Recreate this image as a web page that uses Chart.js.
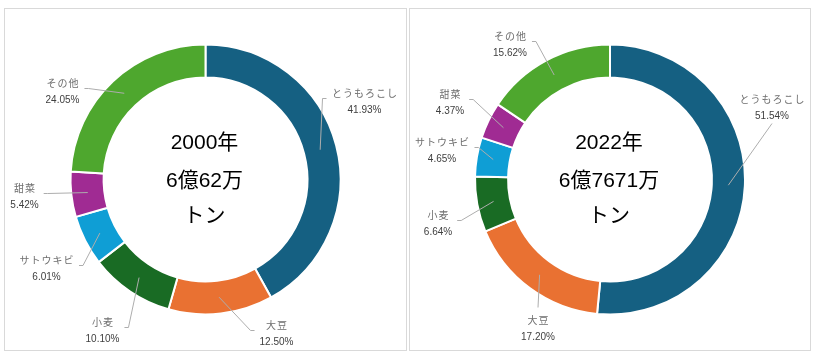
<!DOCTYPE html>
<html><head><meta charset="utf-8">
<script src="https://cdn.jsdelivr.net/npm/chart.js@4/dist/chart.umd.min.js"></script>
<style>
html,body{margin:0;padding:0;background:#fff;}
.panel{position:absolute;top:8px;height:343px;border:1px solid #d9d9d9;box-sizing:border-box;background:#fff;}
#p1{left:4px;width:403px;}
#p2{left:409px;width:402px;}
canvas{display:block;}
</style></head><body>
<div class="panel" id="p1"><canvas id="c1"></canvas></div>
<div class="panel" id="p2"><canvas id="c2"></canvas></div>
<script>
// ---- data ----
const categories = ['とうもろこし','大豆','小麦','サトウキビ','甜菜','その他'];
const values2000 = [41.93, 12.50, 10.10, 6.01, 5.42, 24.05];
const values2022 = [51.54, 17.20, 6.64, 4.65, 4.37, 15.62];
const centerText2000 = ['2000年','6億62万','トン'];
const centerText2022 = ['2022年','6億7671万','トン'];

// ---- styling / layout ----
const colors = ['#156082','#E97132','#196B24','#0F9ED5','#A02B93','#4EA72E'];
const labelLayout2000 = [
  {dx:159, dy:-78, side:'l'},
  {dx:71, dy:154, side:'l'},
  {dx:-103, dy:151, side:'r'},
  {dx:-159, dy:89, side:'r'},
  {dx:-181, dy:17, side:'r'},
  {dx:-143, dy:-88, side:'r'}
];
const labelLayout2022 = [
  {dx:162, dy:-72, side:'b'},
  {dx:-72, dy:149, side:'t'},
  {dx:-172, dy:44, side:'r'},
  {dx:-168, dy:-29, side:'r'},
  {dx:-160, dy:-77, side:'r'},
  {dx:-100, dy:-135, side:'r'}
];

const outLabels = {
  id: 'outLabels',
  afterDatasetsDraw(chart, args, opts) {
    const ctx = chart.ctx;
    const meta = chart.getDatasetMeta(0);
    const data = chart.data.datasets[0].data;
    const labels = chart.data.labels;
    ctx.save();
    meta.data.forEach((arc, i) => {
      const p = arc.getProps(['x','y','startAngle','endAngle','innerRadius','outerRadius'], true);
      const mid = (p.startAngle + p.endAngle) / 2;
      const rr = (p.innerRadius + p.outerRadius) / 2;
      const ax = p.x + Math.cos(mid) * rr;
      const ay = p.y + Math.sin(mid) * rr;
      const L = opts.layout[i];
      const cx = p.x + L.dx, cy = p.y + L.dy;
      const name = labels[i];
      const pct = data[i].toFixed(2) + '%';
      ctx.font = '10px "Noto Sans CJK JP"';
      ctx.letterSpacing = '1px';
      const w1 = ctx.measureText(name).width;
      ctx.letterSpacing = '0px';
      ctx.font = '10px "Liberation Sans"';
      const w2 = ctx.measureText(pct).width;
      const W = Math.max(w1, w2);
      let pts;
      if (L.side === 'r') {
        const ex = cx + W/2 + 9, ey = cy - 3;
        pts = [[ax,ay],[ex,ey],[ex-4,ey]];
      } else if (L.side === 'l') {
        const ex = cx - W/2 - 9, ey = cy - 3;
        pts = [[ax,ay],[ex,ey],[ex+4,ey]];
      } else if (L.side === 't') {
        pts = [[ax,ay],[cx, cy - 21]];
      } else {
        pts = [[ax,ay],[cx, cy + 16]];
      }
      ctx.strokeStyle = '#adadad';
      ctx.lineWidth = 1;
      ctx.beginPath();
      ctx.moveTo(pts[0][0], pts[0][1]);
      for (let k = 1; k < pts.length; k++) ctx.lineTo(pts[k][0], pts[k][1]);
      ctx.stroke();
      ctx.textAlign = 'center';
      ctx.textBaseline = 'middle';
      ctx.fillStyle = '#6e6e6e';
      ctx.font = '10px "Noto Sans CJK JP"';
      ctx.letterSpacing = '1px';
      ctx.fillText(name, cx + 0.5, cy - 8.5);
      ctx.letterSpacing = '0px';
      ctx.font = '10px "Liberation Sans"';
      ctx.fillStyle = '#404040';
      ctx.fillText(pct, cx, cy + 8.5);
    });
    ctx.restore();
  }
};

const centerLabel = {
  id: 'centerLabel',
  afterDatasetsDraw(chart, args, opts) {
    const ctx = chart.ctx;
    const arc = chart.getDatasetMeta(0).data[0];
    const x = arc.x, y = arc.y;
    ctx.save();
    ctx.font = '21px "Liberation Sans", "Noto Sans CJK JP"';
    ctx.fillStyle = '#000';
    ctx.textAlign = 'center';
    ctx.textBaseline = 'middle';
    const offs = [-36, 2, 37];
    opts.lines.forEach((t, k) => ctx.fillText(t, x - 1, y + offs[k]));
    ctx.restore();
  }
};

function makeChart(id, values, lines, layout) {
  return new Chart(document.getElementById(id), {
    type: 'doughnut',
    data: {
      labels: categories,
      datasets: [{
        data: values,
        backgroundColor: colors,
        borderColor: '#ffffff',
        borderWidth: 2
      }]
    },
    options: {
      responsive: true,
      maintainAspectRatio: false,
      animation: false,
      radius: 135,
      cutout: '75.5%',
      plugins: {
        legend: { display: false },
        tooltip: { enabled: false },
        outLabels: { layout: layout },
        centerLabel: { lines: lines }
      }
    },
    plugins: [outLabels, centerLabel]
  });
}

makeChart('c1', values2000, centerText2000, labelLayout2000);
makeChart('c2', values2022, centerText2022, labelLayout2022);
</script>
</body></html>
